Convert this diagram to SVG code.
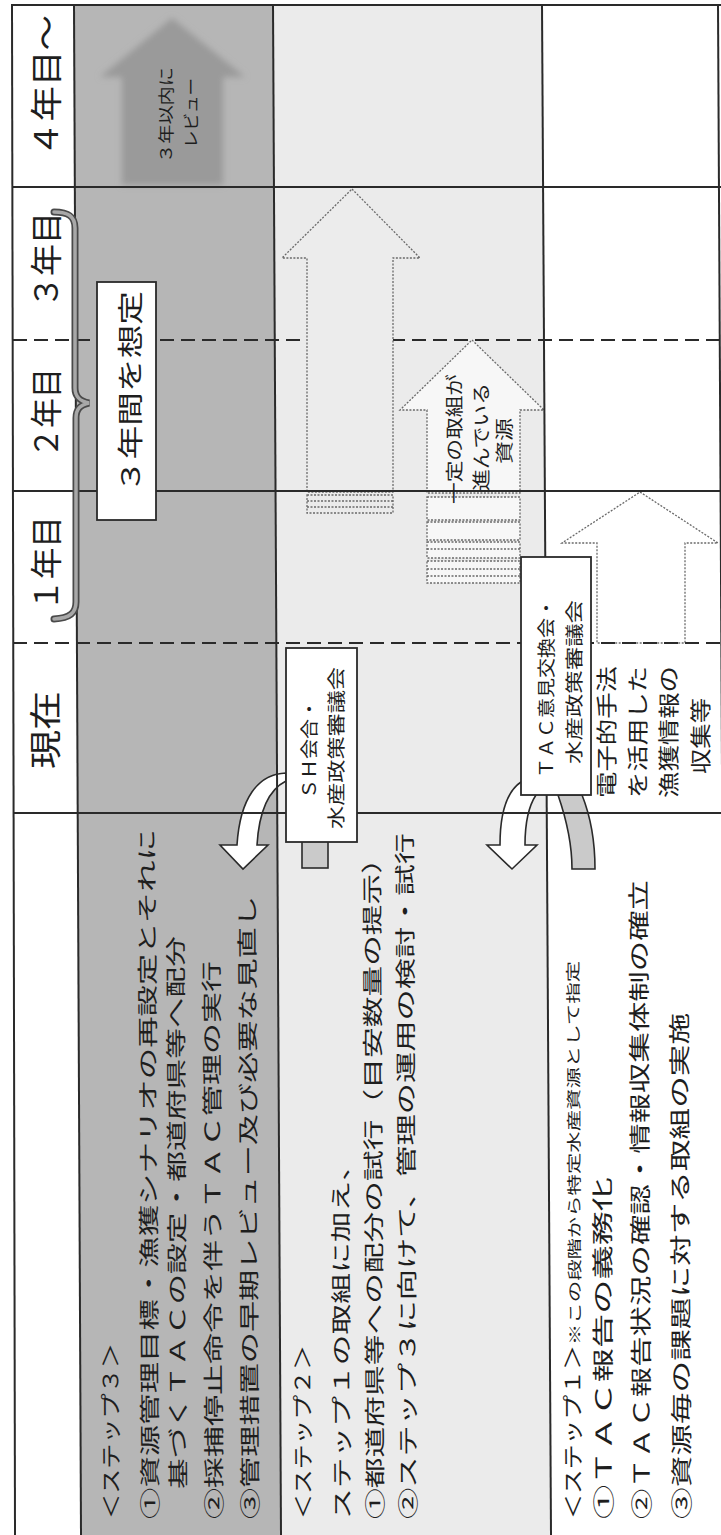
<svg xmlns="http://www.w3.org/2000/svg" width="721" height="1535" viewBox="0 0 721 1535">
<defs>
<style>
text { font-family: "Noto Sans CJK JP", "Noto Sans CJK SC", sans-serif; fill: #1e1e1e; dominant-baseline: central; }
.hdr { font-size: 32px; }
.st { font-size: 21px; }
.s1 { font-size: 22px; }
.sm { font-size: 15px; }
.bx { font-size: 18px; }
.ar { font-size: 18px; }
.rv { font-size: 16px; }
.mid { text-anchor: middle; }
.grid { stroke: #2a2a2a; stroke-width: 2; fill: none; }
.dash { stroke-dasharray: 14 7; }
.box { fill: #ffffff; stroke: #2a2a2a; stroke-width: 1.8; }
.harrow { stroke: #6a6a6a; stroke-width: 1.3; stroke-dasharray: 2 1.5; }
.uturn { fill: #ffffff; stroke: #2a2a2a; stroke-width: 1.6; }
.tail { fill: #cacaca; stroke: #2a2a2a; stroke-width: 1.6; }
</style>
<filter id="soft" x="-20%" y="-20%" width="140%" height="140%">
<feGaussianBlur stdDeviation="3"/>
</filter>
</defs>
<rect x="0" y="0" width="721" height="1535" fill="#ffffff"/>
<g id="bands">
<polygon points="73.5,5 273,5 281,1535 81,1535" fill="#b6b6b6"/>
<polygon points="273,5 542,5 551,1535 281,1535" fill="#ebebeb"/>
</g>
<g id="connectors">
<path class="uturn" d="M 286,773 C 258,774 240,798 237,845 L 220,845 L 243,869 L 268,845 L 257,845 C 259,812 268,790 286,781 Z"/>
<rect class="tail" x="302" y="841" width="26" height="27"/>
<path class="uturn" d="M 521,782 C 506,792 500,815 500,845 L 487,845 L 512,869 L 537,845 L 525,845 C 525,822 528,807 536,795 Z"/>
<path class="tail" d="M 558,795 C 566,818 572,842 572,869 L 595,869 C 595,838 590,815 582,795 Z"/>
</g>
<line class="grid dash" x1="13" y1="340" x2="721" y2="340"/>
<g id="arrow-a">
<polygon class="harrow" fill="#ececec" points="352,189 420,258 393,258 393,492 307,492 307,258 282,258"/>
<g class="harrow" fill="none">
<rect x="307" y="495" width="86" height="18"/>
<line x1="307" y1="501" x2="393" y2="501"/>
<line x1="307" y1="507" x2="393" y2="507"/>
</g>
</g>
<g id="arrow-b">
<polygon class="harrow" fill="#f7f7f7" points="472,340 544,410 520,410 520,493 427,493 427,410 400,410"/>
<g class="harrow" fill="#f7f7f7">
<rect x="427" y="497" width="93" height="23"/>
<rect x="427" y="522" width="93" height="18"/>
<rect x="427" y="542" width="93" height="16"/>
<rect x="427" y="561" width="93" height="22"/>
<line x1="427" y1="549" x2="520" y2="549"/>
<line x1="427" y1="569" x2="520" y2="569"/>
<line x1="427" y1="576" x2="520" y2="576"/>
</g>
</g>
<g id="arrow-c">
<polygon class="harrow" fill="#ffffff" points="640,492 718,543 685,543 685,643 597,643 597,543 562,543"/>
</g>
<g id="review-arrow-shape">
<polygon points="172,18 245,77 223,77 223,185 122,185 122,77 100,77" fill="#9a9a9a" filter="url(#soft)"/>
</g>
<g id="grid">
<line class="grid" x1="12" y1="4" x2="15" y2="1535" stroke-width="2.5"/>
<line class="grid" x1="74" y1="4" x2="81" y2="1535" stroke-width="3"/>
<line class="grid" x1="273" y1="4" x2="281" y2="1535" stroke-width="2.5"/>
<line class="grid" x1="542" y1="4" x2="551" y2="1535"/>
<line class="grid" x1="718" y1="4" x2="726" y2="1535"/>
<line class="grid" x1="11" y1="5" x2="721" y2="5" stroke-width="2.5"/>
<line class="grid" x1="12" y1="187" x2="721" y2="187"/>
<line class="grid" x1="13" y1="491" x2="721" y2="491"/>
<line class="grid dash" x1="13" y1="643" x2="721" y2="643"/>
<line class="grid" x1="14" y1="813" x2="721" y2="813"/>
</g>
<g id="review-arrow">
<text class="rv mid" transform="translate(165,115) rotate(-90)" textLength="96" lengthAdjust="spacingAndGlyphs">３年以内に</text>
<text class="rv mid" transform="translate(190,113) rotate(-90)" textLength="70" lengthAdjust="spacingAndGlyphs">レビュー</text>
</g>
<g id="brace">
<path d="M 54,212 C 68,212 75,216 75,228 L 75,388 C 75,397 80,401 89,403 C 80,405 76,409 76,418 L 76,602 C 76,613 70,618 54,619" fill="none" stroke="#4a4a4a" stroke-width="7" stroke-linecap="round"/>
<path d="M 54,212 C 68,212 75,216 75,228 L 75,388 C 75,397 80,401 89,403 C 80,405 76,409 76,418 L 76,602 C 76,613 70,618 54,619" fill="none" stroke="#a8a8a8" stroke-width="3.5" stroke-linecap="round"/>
</g>
<g id="header">
<text class="hdr" transform="translate(44,157) rotate(-90)" textLength="142" lengthAdjust="spacingAndGlyphs">４年目～</text>
<text class="hdr" transform="translate(44,308) rotate(-90)" textLength="96" lengthAdjust="spacingAndGlyphs">３年目</text>
<text class="hdr" transform="translate(44,458) rotate(-90)" textLength="90" lengthAdjust="spacingAndGlyphs">２年目</text>
<text class="hdr" transform="translate(44,611) rotate(-90)" textLength="95" lengthAdjust="spacingAndGlyphs">１年目</text>
<text class="hdr" transform="translate(43,769) rotate(-90)" textLength="78" lengthAdjust="spacingAndGlyphs">現在</text>
</g>
<g id="box-3years">
<rect class="box" x="97" y="282" width="59" height="238"/>
<text class="mid" font-size="26" transform="translate(128,392) rotate(-90)" textLength="202" lengthAdjust="spacingAndGlyphs">３年間を想定</text>
</g>
<g id="box-sh">
<rect class="box" x="286" y="648" width="71" height="194"/>
<text class="bx mid" transform="translate(308,749) rotate(-90)" textLength="100" lengthAdjust="spacingAndGlyphs">ＳＨ会合・</text>
<text class="bx mid" transform="translate(335,748) rotate(-90)" textLength="162" lengthAdjust="spacingAndGlyphs">水産政策審議会</text>
</g>
<g id="box-tac">
<rect class="box" x="521" y="557" width="70" height="238"/>
<text class="bx mid" transform="translate(545,688) rotate(-90)" textLength="180" lengthAdjust="spacingAndGlyphs">ＴＡＣ意見交換会・</text>
<text class="bx mid" transform="translate(573,682) rotate(-90)" textLength="164" lengthAdjust="spacingAndGlyphs">水産政策審議会</text>
</g>
<g id="arrow-b-label">
<text class="ar mid" transform="translate(453,439) rotate(-90)" textLength="130" lengthAdjust="spacingAndGlyphs">一定の取組が</text>
<text class="ar mid" transform="translate(480,437) rotate(-90)" textLength="108" lengthAdjust="spacingAndGlyphs">進んでいる</text>
<text class="ar mid" transform="translate(503,441) rotate(-90)" textLength="46" lengthAdjust="spacingAndGlyphs">資源</text>
</g>
<g id="electronic">
<text class="st mid" transform="translate(605,732) rotate(-90)" textLength="132" lengthAdjust="spacingAndGlyphs">電子的手法</text>
<text class="st mid" transform="translate(636,732) rotate(-90)" textLength="132" lengthAdjust="spacingAndGlyphs">を活用した</text>
<text class="st mid" transform="translate(667,732) rotate(-90)" textLength="132" lengthAdjust="spacingAndGlyphs">漁獲情報の</text>
<text class="st mid" transform="translate(699,736) rotate(-90)" textLength="76" lengthAdjust="spacingAndGlyphs">収集等</text>
</g>
<g id="step3">
<text class="st" transform="translate(110,1519) rotate(-90.3)" textLength="176" lengthAdjust="spacingAndGlyphs">＜ステップ３＞</text>
<text class="st" transform="translate(149,1519) rotate(-90.3)" textLength="690" lengthAdjust="spacingAndGlyphs">①資源管理目標・漁獲シナリオの再設定とそれに</text>
<text class="st" transform="translate(177,1489) rotate(-90.3)" textLength="553" lengthAdjust="spacingAndGlyphs">基づくＴＡＣの設定・都道府県等へ配分</text>
<text class="st" transform="translate(213,1519) rotate(-90.3)" textLength="558" lengthAdjust="spacingAndGlyphs">②採捕停止命令を伴うＴＡＣ管理の実行</text>
<text class="st" transform="translate(249,1519) rotate(-90.3)" textLength="623" lengthAdjust="spacingAndGlyphs">③管理措置の早期レビュー及び必要な見直し</text>
</g>
<g id="step2">
<text class="st" transform="translate(302,1519) rotate(-90.3)" textLength="174" lengthAdjust="spacingAndGlyphs">＜ステップ２＞</text>
<text class="st" transform="translate(341,1519) rotate(-90.3)" textLength="369" lengthAdjust="spacingAndGlyphs">ステップ１の取組に加え、</text>
<text class="st" transform="translate(374,1519) rotate(-90.3)" textLength="676" lengthAdjust="spacingAndGlyphs">①都道府県等への配分の試行（目安数量の提示）</text>
<text class="st" transform="translate(407,1519) rotate(-90.3)" textLength="686" lengthAdjust="spacingAndGlyphs">②ステップ３に向けて、管理の運用の検討・試行</text>
</g>
<g id="step1">
<text class="st" transform="translate(572,1519) rotate(-90.3)" textLength="174" lengthAdjust="spacingAndGlyphs">＜ステップ１＞</text>
<text class="sm" transform="translate(574,1345) rotate(-90.3)" textLength="384" lengthAdjust="spacingAndGlyphs">※この段階から特定水産資源として指定</text>
<text class="s1" transform="translate(602,1519) rotate(-90.3)" textLength="342" lengthAdjust="spacingAndGlyphs">①ＴＡＣ報告の義務化</text>
<text class="s1" transform="translate(640,1519) rotate(-90.3)" textLength="639" lengthAdjust="spacingAndGlyphs">②ＴＡＣ報告状況の確認・情報収集体制の確立</text>
<text class="s1" transform="translate(680,1519) rotate(-90.3)" textLength="506" lengthAdjust="spacingAndGlyphs">③資源毎の課題に対する取組の実施</text>
</g>
</svg>
